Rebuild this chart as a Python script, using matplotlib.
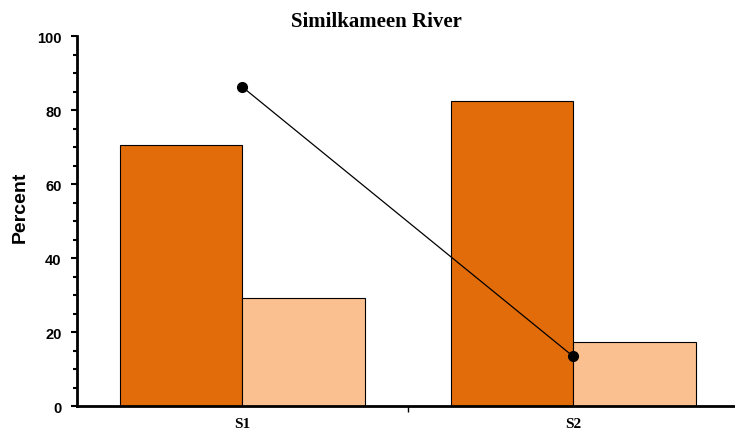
import matplotlib
matplotlib.use("Agg")
import matplotlib.pyplot as plt
from matplotlib.ticker import MultipleLocator
import numpy as np

categories = ["S1", "S2"]
dark_values = [70.6, 82.6]
light_values = [29.4, 17.4]
line_values = [86.3, 13.5]

fig = plt.figure(figsize=(7.35, 4.35), dpi=100)
ax = fig.add_axes([77/735, 1-407.3/435, (738.5-77)/735, 370/435])

x = np.arange(len(categories))
w = 0.37
ax.bar(x - w/2, dark_values, width=w, color="#E36C0A", edgecolor="black", linewidth=0.8, zorder=2)
ax.bar(x + w/2, light_values, width=w, color="#FAC090", edgecolor="black", linewidth=0.8, zorder=2)
ax.plot(x, line_values, color="black", linewidth=0.9, marker="o", markersize=7, zorder=3)

ax.set_xlim(-0.5, 1.5)
ax.set_ylim(0, 100)
ax.yaxis.set_major_locator(MultipleLocator(20))
ax.yaxis.set_minor_locator(MultipleLocator(5))
ax.set_xticks(x)
ax.set_xticks([0.5], minor=True)
ax.set_xticklabels(categories, fontfamily="Liberation Serif", fontweight="bold", fontsize=11)
for lab in ax.get_yticklabels():
    lab.set_fontfamily("Liberation Sans")
    lab.set_fontweight("bold")
    lab.set_fontsize(10.5)
ax.tick_params(axis="y", which="major", direction="out", length=4, width=1.5, pad=7)
ax.tick_params(axis="y", which="minor", direction="out", length=3, width=1.5)
ax.tick_params(axis="x", which="major", length=0, pad=8)
ax.tick_params(axis="x", which="minor", direction="out", length=4, width=1)

for s in ["top", "right"]:
    ax.spines[s].set_visible(False)
ax.spines["left"].set_linewidth(2)
ax.spines["bottom"].set_linewidth(2)

fig.text(20/735, 1-207.5/435, "Percent", rotation=90, ha="center", va="center",
         fontfamily="Liberation Sans", fontweight="bold", fontsize=14)
fig.text(376/735, 1-27/435, "Similkameen River", ha="center", va="baseline",
         fontfamily="Liberation Serif", fontweight="bold", fontsize=15)

fig.savefig("out.png", dpi=100)
